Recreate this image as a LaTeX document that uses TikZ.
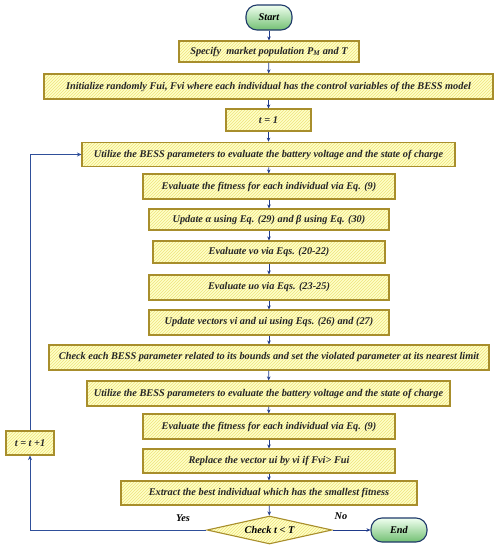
\documentclass[tikz,border=0pt]{standalone}
\usepackage{fontspec}
\setmainfont{Liberation Serif}
\usetikzlibrary{patterns,shapes.geometric,arrows.meta,shadows}
\definecolor{boxfill}{HTML}{FFFFC8}
\definecolor{hatch}{HTML}{EDE47C}
\definecolor{boxline}{HTML}{A88E2C}
\definecolor{arrowc}{HTML}{1F3A8A}
\definecolor{loopc}{HTML}{2F4F9A}
\definecolor{termline}{HTML}{1F3A6A}
\tikzset{
  procbox/.style={draw=boxline, line width=1.1pt, preaction={fill=boxfill}, pattern=north east lines, pattern color=hatch,
    inner sep=0pt, font=\fontsize{10.3}{12}\selectfont\bfseries\itshape, text=black!85},
  termbox/.style={draw=termline, line width=1.1pt, rounded corners=11pt, top color=green!6, bottom color=green!55!black!55,
    inner sep=0pt, font=\fontsize{10.3}{12}\selectfont\bfseries\itshape},
  decbox/.style={diamond, draw=boxline, line width=1.1pt, preaction={fill=boxfill}, pattern=north east lines, pattern color=hatch,
    inner sep=0pt, aspect=4.5, font=\fontsize{10.3}{12}\selectfont\bfseries\itshape},
  flow/.style={draw=arrowc, line width=0.8pt, -{Stealth[length=4pt,width=3.5pt]}},
  loopflow/.style={draw=loopc, line width=1pt, -{Stealth[length=4.5pt,width=4pt]}},
  lbl/.style={font=\fontsize{10.3}{12}\selectfont\bfseries\itshape}
}
\begin{document}
\begin{tikzpicture}[x=1pt,y=-1pt]
\useasboundingbox (0,0) rectangle (501,550);
\node[termbox, minimum width=46pt, minimum height=25pt] (start) at (269,17.5) {Start};
\node[procbox, minimum width=180pt, minimum height=21pt] (spec) at (269,51.5) {Specify\ \ market population P\textsubscript{M} and T};
\node[procbox, minimum width=449pt, minimum height=25pt] (init) at (268.5,86.5) {Initialize randomly Fui, Fvi where each individual has the control variables of the BESS model};
\node[procbox, minimum width=85pt, minimum height=22pt] (t1) at (268.5,120) {t = 1};
\node[procbox, minimum width=373pt, minimum height=24.5pt] (util1) at (268.5,154.5) {Utilize the BESS parameters to evaluate the battery voltage and the state of charge};
\node[procbox, minimum width=252pt, minimum height=25pt] (fit1) at (269,186.5) {Evaluate the fitness for each individual via Eq. (9)};
\node[procbox, minimum width=240pt, minimum height=21pt] (upd) at (269,219.5) {Update α using Eq. (29) and β using Eq. (30)};
\node[procbox, minimum width=232pt, minimum height=22pt] (vo) at (269,252) {Evaluate vo via Eqs. (20-22)};
\node[procbox, minimum width=240pt, minimum height=25pt] (uo) at (269,287.5) {Evaluate uo via Eqs. (23-25)};
\node[procbox, minimum width=240pt, minimum height=25pt] (vec) at (269,322.5) {Update vectors vi and ui using Eqs. (26) and (27)};
\node[procbox, minimum width=440pt, minimum height=25pt] (chk) at (269,357.5) {Check each BESS parameter related to its bounds and set the violated parameter at its nearest limit};
\node[procbox, minimum width=363pt, minimum height=25pt] (util2) at (268.5,393.5) {Utilize the BESS parameters to evaluate the battery voltage and the state of charge};
\node[procbox, minimum width=252pt, minimum height=25pt] (fit2) at (269,426.5) {Evaluate the fitness for each individual via Eq. (9)};
\node[procbox, minimum width=252pt, minimum height=24pt] (rep) at (269,461) {Replace the vector ui by vi if Fvi> Fui};
\node[procbox, minimum width=296pt, minimum height=24pt] (ext) at (269,493) {Extract the best individual which has the smallest fitness};
\node[decbox, minimum width=125pt, minimum height=28pt] (dec) at (269.5,530) {Check t < T};
\node[termbox, minimum width=56pt, minimum height=24pt] (end) at (399,530) {End};
\node[procbox, minimum width=48pt, minimum height=24pt] (inc) at (30,443) {t = t +1};
\node[lbl] (yes) at (183,518) {Yes};
\node[lbl] (no) at (341,516) {No};
\draw[flow] (start) -- (spec);
\draw[flow] (spec) -- (init);
\draw[flow] (init) -- (t1);
\draw[flow] (t1) -- (util1);
\draw[flow] (util1) -- (fit1);
\draw[flow] (fit1) -- (upd);
\draw[flow] (upd) -- (vo);
\draw[flow] (vo) -- (uo);
\draw[flow] (uo) -- (vec);
\draw[flow] (vec) -- (chk);
\draw[flow] (chk) -- (util2);
\draw[flow] (util2) -- (fit2);
\draw[flow] (fit2) -- (rep);
\draw[flow] (rep) -- (ext);
\draw[flow] (ext) -- (dec);
\draw[flow] (dec.east) -- (end.west);
\draw[loopflow] (dec.west) -| (inc.south);
\draw[loopflow] (inc.north) |- (util1.west);
\end{tikzpicture}
\end{document}
